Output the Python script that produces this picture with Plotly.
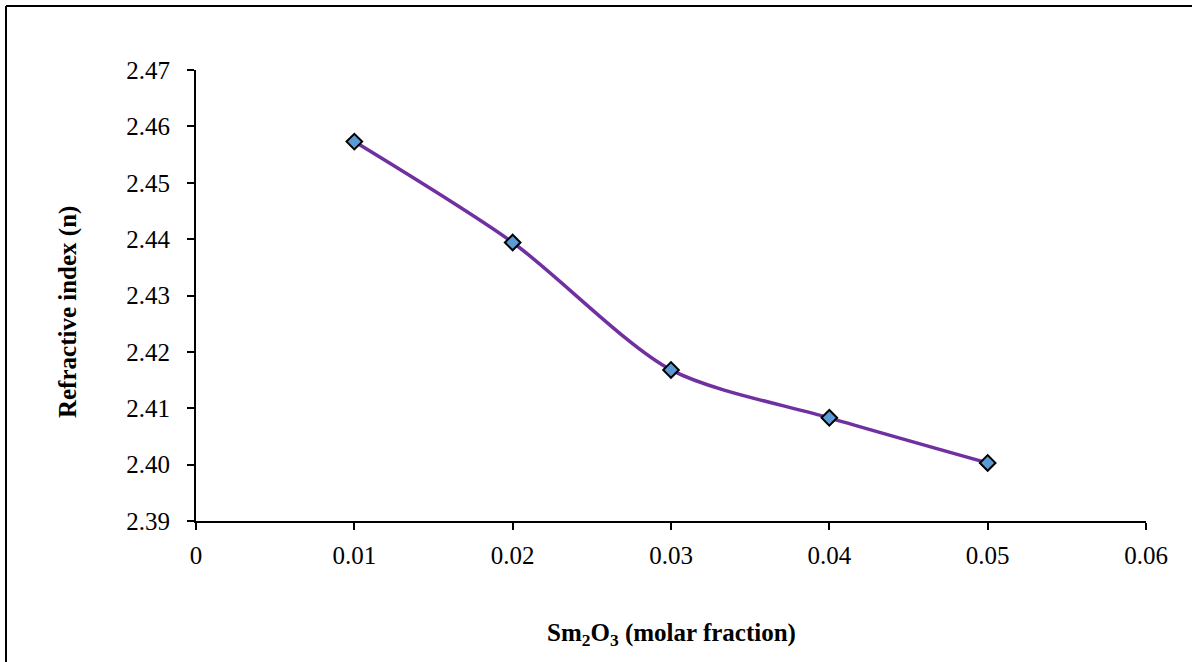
import plotly.graph_objects as go

# Sm2O3 molar fraction vs refractive index
sm2o3_fraction = [0.01, 0.02, 0.03, 0.04, 0.05]
refractive_index = [2.4573, 2.4394, 2.4168, 2.4083, 2.4003]

x_ticks = [0, 0.01, 0.02, 0.03, 0.04, 0.05, 0.06]
x_tick_labels = ['0', '0.01', '0.02', '0.03', '0.04', '0.05', '0.06']
y_ticks = [2.39, 2.40, 2.41, 2.42, 2.43, 2.44, 2.45, 2.46, 2.47]
y_tick_labels = ['2.39', '2.40', '2.41', '2.42', '2.43', '2.44', '2.45', '2.46', '2.47']

font_family = 'Liberation Serif, Times New Roman, serif'

fig = go.Figure()

fig.add_trace(go.Scatter(
    x=sm2o3_fraction, y=refractive_index,
    mode='lines+markers',
    line=dict(color='#7030A0', width=3.5, shape='spline', smoothing=0.8),
    marker=dict(symbol='diamond', size=12, color='#5B9BD5',
                line=dict(color='black', width=2)),
    showlegend=False))

fig.update_xaxes(range=[0, 0.06], tickvals=x_ticks, ticktext=x_tick_labels,
                 showline=True, linecolor='black', linewidth=2,
                 ticks='outside', ticklen=7, tickwidth=2, tickcolor='black',
                 ticklabelstandoff=4,
                 showgrid=False, zeroline=False,
                 tickfont=dict(family=font_family, size=25, color='black'))
fig.update_yaxes(range=[2.39, 2.47], tickvals=y_ticks, ticktext=y_tick_labels,
                 showline=True, linecolor='black', linewidth=2,
                 ticks='outside', ticklen=7, tickwidth=2, tickcolor='black',
                 ticklabelstandoff=12,
                 showgrid=False, zeroline=False,
                 tickfont=dict(family=font_family, size=25, color='black'))

# axis titles
fig.add_annotation(text='<b>Refractive index (n)</b>', textangle=-90,
                   xref='paper', yref='paper', x=-0.1347, y=0.4634,
                   xanchor='center', yanchor='middle', showarrow=False,
                   font=dict(family=font_family, size=25, color='black'))
fig.add_annotation(text='<b>Sm<sub>2</sub>O<sub>3</sub> (molar fraction)</b>',
                   xref='paper', yref='paper', x=0.5, y=-0.2506,
                   xanchor='center', yanchor='middle', showarrow=False,
                   font=dict(family=font_family, size=25, color='black'))

# outer frame (left and top edges visible)
fig.add_shape(type='line', xref='paper', yref='paper',
              x0=-0.2, x1=-0.2, y0=-0.35, y1=1.142,
              line=dict(color='black', width=2))
fig.add_shape(type='line', xref='paper', yref='paper',
              x0=-0.2, x1=1.1, y0=1.142, y1=1.142,
              line=dict(color='black', width=2))

fig.update_layout(width=1192, height=662,
                  margin=dict(l=196, r=46, t=70, b=141),
                  plot_bgcolor='white', paper_bgcolor='white')

# drop the browser's default body margin so the figure sits at the page origin
fig.write_html('out.html', config={'displayModeBar': False},
               post_script="document.body.style.margin='0';")
